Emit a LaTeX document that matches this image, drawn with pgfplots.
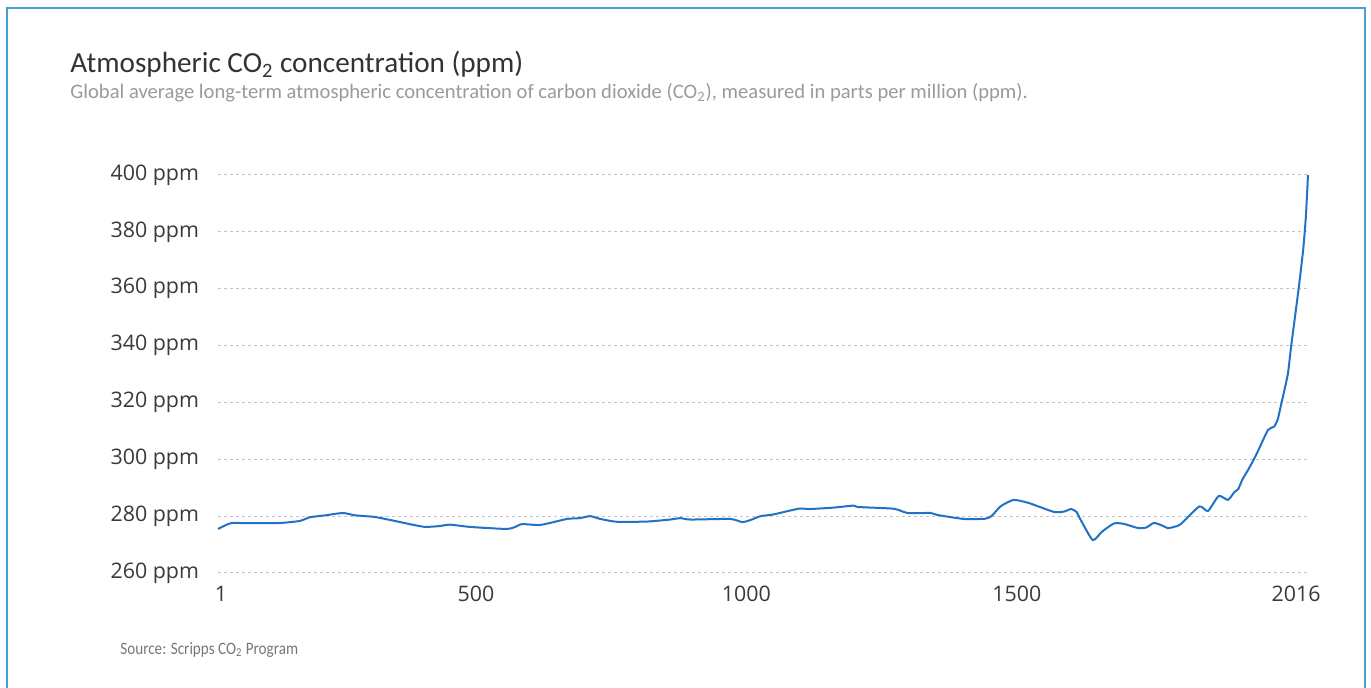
\documentclass[border=0pt]{standalone}
\usepackage{fontspec}
\setmainfont{Carlito}
\newfontfamily\opensans{Open Sans}
\usepackage{graphicx}
\usepackage{pgfplots}
\pgfplotsset{compat=1.18}
\definecolor{owidblue}{HTML}{1F72C4}
\definecolor{framec}{HTML}{4A9FD8}
\definecolor{titlec}{HTML}{333333}
\definecolor{subc}{HTML}{9A9A9A}
\definecolor{tickc}{HTML}{3A3A3A}
\definecolor{gridc}{HTML}{C4C4C4}
\definecolor{srcc}{HTML}{777777}
\begin{document}
\begin{tikzpicture}
\useasboundingbox (0pt,0pt) rectangle (685.5pt,344pt);
\draw[framec, line width=1.2pt] (3.5pt,-5pt) -- (3.5pt,340pt) -- (682.5pt,340pt) -- (682.5pt,-5pt);
\node[anchor=base west, inner sep=0pt, text=titlec, font=\fontsize{14.6}{16}\selectfont] at (35pt,307.5pt) {Atmospheric CO\textsubscript{2} concentration (ppm)};
\node[anchor=base west, inner sep=0pt, text=subc, font=\fontsize{10.3}{12}\selectfont] at (35pt,294.5pt) {Global average long-term atmospheric concentration of carbon dioxide (CO\textsubscript{2}), measured in parts per million (ppm).};
\node[anchor=base west, inner sep=0pt, text=srcc, font=\fontsize{8.7}{10}\selectfont] at (60pt,16.5pt) {\scalebox{0.87}[1]{Source: Scripps CO\textsubscript{2} Program}};
\begin{axis}[
  at={(109pt,57.5pt)}, anchor=south west,
  scale only axis, width=545pt, height=199pt,
  xmin=1, xmax=2016, ymin=260, ymax=400,
  axis line style={draw=none},
  major tick length=0pt,
  ytick={260,280,...,400},
  yticklabels={260 ppm,280 ppm,300 ppm,320 ppm,340 ppm,360 ppm,380 ppm,400 ppm},
  xtick={1,500,1000,1500,2016},
  xticklabels={\hspace*{15pt}1,500,1000,1500,2016},
  ymajorgrids,
  grid style={gridc, line width=0.5pt, dash pattern=on 1.5pt off 1.5pt},
  ticklabel style={font=\opensans\fontsize{10.7}{12}\selectfont, text=tickc},
  yticklabel style={xshift=-6pt},
  xticklabel style={yshift=-3pt, xshift=-6pt},
  clip=false,
]
\addplot[owidblue, line width=1pt, smooth, tension=0.35] coordinates {
(1,275.5) (15,276.8) (27,277.6) (60,277.5) (116,277.6) (152,278.3) (171,279.6)
(200,280.3) (232,281.1) (254,280.3) (291,279.7) (328,278.3) (360,277.0) (384,276.2)
(410,276.5) (430,277.0) (467,276.2) (532,275.5) (548,276.0) (563,277.2) (597,276.9)
(646,279.0) (670,279.3) (689,280.0) (708,279.0) (739,278.0) (795,278.1) (837,278.8)
(856,279.3) (874,278.8) (948,279.0) (970,277.9) (985,278.6) (1004,280.0) (1028,280.6)
(1074,282.6) (1096,282.5) (1139,283.0) (1176,283.7) (1185,283.2) (1250,282.6)
(1276,281.1) (1318,281.1) (1331,280.4) (1380,279.0) (1420,279.1) (1432,280.2)
(1448,283.5) (1472,285.7) (1500,284.6) (1546,281.5) (1565,281.6) (1578,282.5)
(1588,281.5) (1596,278.6) (1618,271.6) (1635,274.5) (1657,277.4) (1675,277.3)
(1702,275.8) (1717,276.0) (1731,277.6) (1745,276.8) (1757,275.8) (1770,276.3)
(1781,277.2) (1815,283.4) (1831,281.8) (1851,287.1) (1868,285.7) (1880,288.5)
(1887,289.5) (1895,293.0) (1906,296.5) (1920,301.5) (1942,310.3) (1953,311.4)
(1960,314.0) (1966,319.0) (1972,324.0) (1979,330.3) (1985,340.0) (1998,359.0)
(2007,373.6) (2012,385.2) (2016,400.0)
};
\end{axis}
\end{tikzpicture}
\end{document}
